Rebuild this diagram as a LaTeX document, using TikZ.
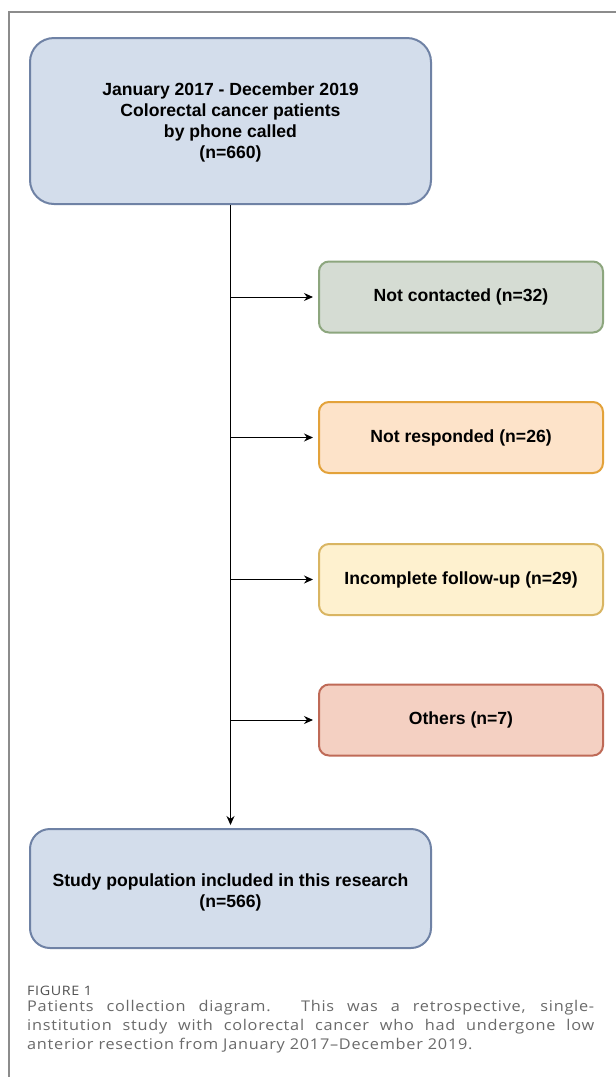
\documentclass[tikz,border=0pt]{standalone}
\usepackage{fontspec}
\setmainfont{Liberation Sans}
\newfontfamily\capfont[FakeStretch=1.1,LetterSpace=5]{Open Sans}
\usetikzlibrary{arrows.meta}
\definecolor{topfill}{HTML}{D3DDEB}
\definecolor{topdraw}{HTML}{6F82A5}
\definecolor{gfill}{HTML}{D5DCD3}
\definecolor{gdraw}{HTML}{8DA67E}
\definecolor{ofill}{HTML}{FDE3C9}
\definecolor{odraw}{HTML}{E3A23A}
\definecolor{yfill}{HTML}{FEF1CF}
\definecolor{ydraw}{HTML}{D9B562}
\definecolor{rfill}{HTML}{F4D0C2}
\definecolor{rdraw}{HTML}{BF6A57}
\definecolor{framegray}{HTML}{8C8C8C}
\definecolor{capgray}{HTML}{6A6A6A}
\begin{document}
\begin{tikzpicture}[x=1pt,y=-1pt,
  bigbox/.style={draw=topdraw, fill=topfill, line width=2pt, rounded corners=24pt,
    minimum width=401pt, align=center, inner sep=0pt,
    font=\fontsize{17.6}{21}\selectfont\bfseries},
  boxtext/.style={align=center, inner sep=0pt, font=\fontsize{17.6}{21}\selectfont\bfseries},
  sidebox/.style={line width=2pt, rounded corners=10pt, minimum width=284pt,
    minimum height=71pt, align=center, inner sep=0pt,
    font=\fontsize{17.6}{21}\selectfont\bfseries},
  conn/.style={draw=black, line width=1pt, -{Stealth[length=9pt,width=8pt]}},
  capline/.style={anchor=base west, inner sep=0pt, text=capgray,
    font=\capfont\fontsize{14.8}{19}\selectfont}
]
\useasboundingbox (0,0) rectangle (616,1077);
\fill[white] (0,0) rectangle (616,1077);
\draw[framegray, line width=1.3pt] (9,1077) -- (9,12) -- (616,12);

\node[bigbox, minimum height=166pt] (top) at (230.5,121) {};
\node[boxtext] (toptxt) at (230.5,122.5)
  {January 2017 - December 2019\\Colorectal cancer patients\\by phone called\\(n=660)};
\node[bigbox, minimum height=119pt, rounded corners=20pt] (bot) at (230.5,888.5) {};
\node[boxtext] (bottxt) at (230.5,892)
  {Study population included in this research\\(n=566)};

\node[sidebox, draw=gdraw, fill=gfill] (nc) at (461,297) {Not contacted (n=32)};
\node[sidebox, draw=odraw, fill=ofill] (nr) at (461,437.5) {Not responded (n=26)};
\node[sidebox, draw=ydraw, fill=yfill] (inc) at (461,579.5) {Incomplete follow-up (n=29)};
\node[sidebox, draw=rdraw, fill=rfill] (oth) at (461,720) {Others (n=7)};

\draw[conn, shorten >=3pt] (top.south) -- (bot.north);
\draw[conn, shorten >=5pt] (top.south |- nc.west) -- (nc.west);
\draw[conn, shorten >=5pt] (top.south |- nr.west) -- (nr.west);
\draw[conn, shorten >=5pt] (top.south |- inc.west) -- (inc.west);
\draw[conn, shorten >=5pt] (top.south |- oth.west) -- (oth.west);

\node[anchor=base west, inner sep=0pt, text=capgray!75!black,
  font=\capfont\fontsize{13}{15}\selectfont] (fig) at (27,995.5) {FIGURE 1};
\node[capline] (cap1) at (27,1011)
  {\makebox[567pt][s]{Patients collection diagram. This was a retrospective, single-}};
\node[capline] (cap2) at (27,1030)
  {\makebox[567pt][s]{institution study with colorectal cancer who had undergone low}};
\node[capline] (cap3) at (27,1049)
  {anterior resection from January 2017–December 2019.};
\end{tikzpicture}
\end{document}
